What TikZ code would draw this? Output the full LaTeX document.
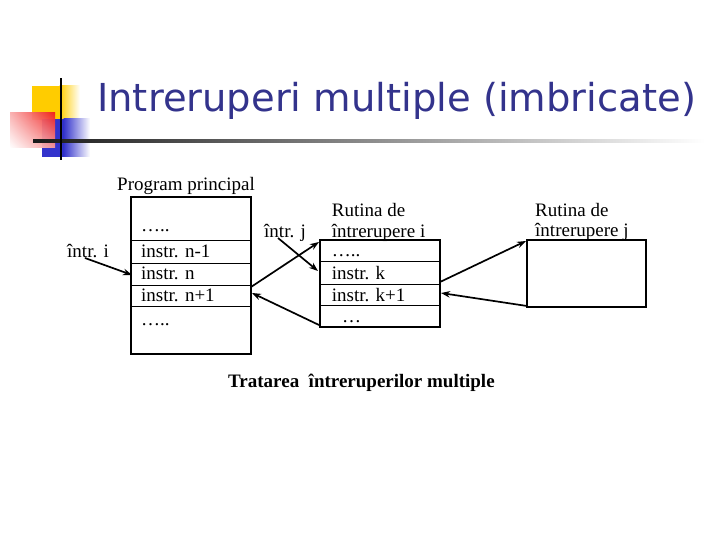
\documentclass[tikz,border=0pt]{standalone}
\usepackage{fontspec}
\setmainfont{Liberation Serif}
\newfontfamily\titlefont{DejaVu Sans}
\usetikzlibrary{arrows.meta,shadings}
\definecolor{titleblue}{RGB}{51,51,140}
\definecolor{decoyellow}{RGB}{255,204,0}
\definecolor{decoblue}{RGB}{51,51,204}
\definecolor{decored}{RGB}{240,30,30}
\tikzset{
  box/.style={draw, line width=2pt, rectangle, inner sep=0pt},
  row/.style={line width=1pt},
  txt/.style={anchor=base west, inner sep=0pt, font=\fontsize{19}{21}\selectfont},
  arr/.style={line width=1.7pt, -{Stealth[length=9pt,width=6.5pt]}},
}
\begin{document}
\begin{tikzpicture}[x=1pt,y=-1pt]
\useasboundingbox (0,0) rectangle (720,540);
% decoration
\fill[decoyellow] (32,86) rectangle (60,120);
\shade[left color=decoyellow, right color=white] (59.5,86) rectangle (80,120);
\fill[decoblue] (42,119) rectangle (64,157);
\shade[left color=decoblue, right color=white] (63.5,119) rectangle (90,157);
\shade[upper left=decored!35, upper right=decored, lower left=white, lower right=decored!45, opacity=0.95] (10,113) rectangle (55,148);
\shade[left color=black!90, right color=white, middle color=black!45] (33,139.7) rectangle (705,142.5);
\fill[black] (59.8,78) rectangle (62.4,160);
\node[anchor=base west, inner sep=0pt, text=titleblue, font=\titlefont\fontsize{38.5}{42}\selectfont] (title) at (97,112) {Intreruperi multiple (imbricate)};
% program principal
\node[box, minimum width=120pt, minimum height=156pt] (pp) at (191,275.5) {};
\draw[row] (131,240.7) -- (251,240.7);
\draw[row] (131,263.3) -- (251,263.3);
\draw[row] (131,285) -- (251,285);
\draw[row] (131,306.7) -- (251,306.7);
\node[txt] (pplabel) at (117,190.7) {Program principal};
\node[txt] (pp0) at (141,231) {\dots..};
\node[txt] (pp1) at (141,257) {instr. n-1};
\node[txt] (pp2) at (141,279) {instr. n};
\node[txt] (pp3) at (141,301) {instr. n+1};
\node[txt] (pp4) at (141,325) {\dots..};
% routine i
\node[box, minimum width=120pt, minimum height=86.7pt] (ri) at (380,283.4) {};
\draw[row] (320,261.7) -- (440,261.7);
\draw[row] (320,284) -- (440,284);
\draw[row] (320,305) -- (440,305);
\node[txt] (rilabel1) at (331.7,216.7) {Rutina de};
\node[txt] (rilabel2) at (331.7,237) {întrerupere i};
\node[txt] (ri0) at (331.7,256.7) {\dots..};
\node[txt] (ri1) at (331.7,279) {instr. k};
\node[txt] (ri2) at (331.7,301) {instr. k+1};
\node[txt] (ri3) at (342,322.7) {\dots};
% routine j
\node[box, minimum width=119.3pt, minimum height=66.7pt] (rj) at (586.4,273.4) {};
\node[txt] (rjlabel1) at (535,216) {Rutina de};
\node[txt] (rjlabel2) at (535,236.7) {întrerupere j};
% interrupt labels
\node[txt] (ii) at (67,257) {într. i};
\node[txt] (ij) at (264,237) {într. j};
% arrows
\coordinate (a1s) at (85,258);
\coordinate (a1e) at (132,275);
\draw[arr] (a1s) -- (a1e);
\coordinate (a2s) at (251,287);
\coordinate (a2e) at (319,242);
\draw[arr] (a2s) -- (a2e);
\coordinate (a3s) at (278,238);
\coordinate (a3e) at (318,271);
\draw[arr] (a3s) -- (a3e);
\coordinate (a4s) at (319,325);
\coordinate (a4e) at (252,293);
\draw[arr] (a4s) -- (a4e);
\coordinate (a5s) at (440,282);
\coordinate (a5e) at (526,241);
\draw[arr] (a5s) -- (a5e);
\coordinate (a6s) at (527,306);
\coordinate (a6e) at (441,293);
\draw[arr] (a6s) -- (a6e);
% caption
\node[anchor=base west, inner sep=0pt, font=\bfseries\fontsize{19}{21}\selectfont] (caption) at (228,387.7) {Tratarea \ întreruperilor multiple};
\end{tikzpicture}
\end{document}
